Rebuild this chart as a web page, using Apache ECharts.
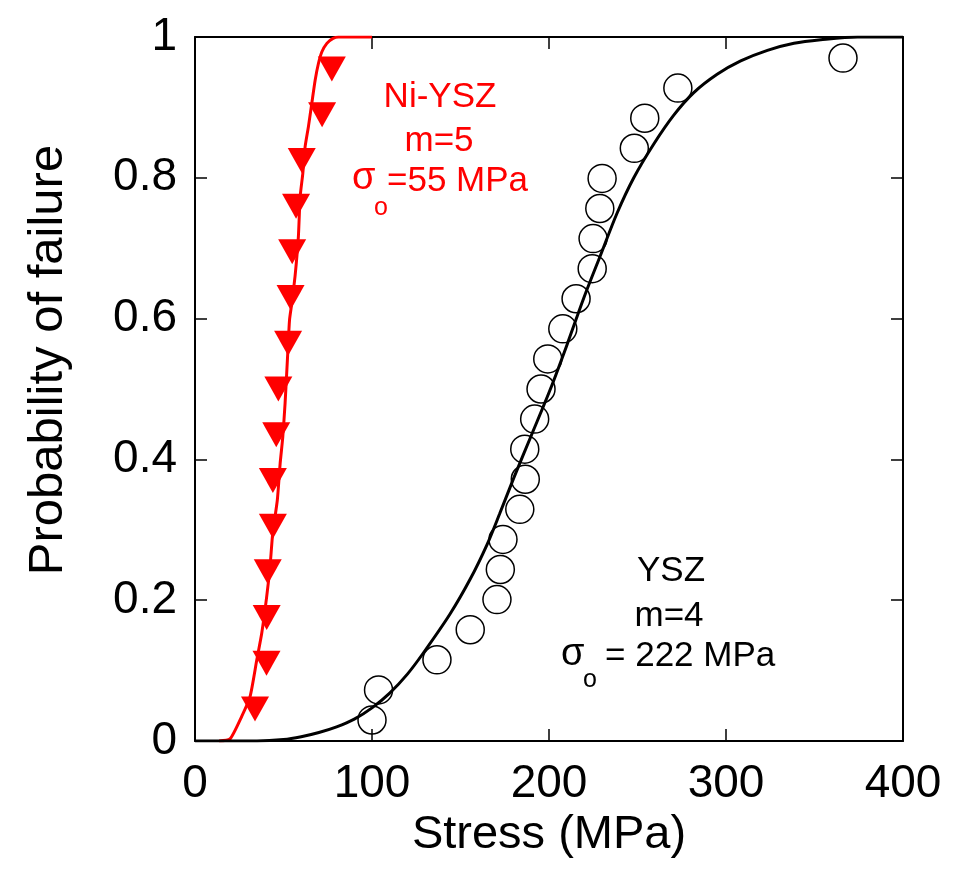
<!DOCTYPE html>
<html><head><meta charset="utf-8">
<script src="https://cdn.jsdelivr.net/npm/echarts@6/dist/echarts.min.js"></script>
<style>html,body{margin:0;padding:0;background:#fff}#c{width:958px;height:872px}</style>
</head><body><div id="c"></div>
<script>
const FONT = "'Liberation Sans', Arial, Helvetica, sans-serif";
// Ni-YSZ measured points
const niStress = [33.9, 40.4, 40.5, 41.1, 44.0, 44.0, 45.9, 47.1, 52.6, 54.0, 54.9, 57.1, 60.3, 71.8, 77.3];
const niProb = [0.0455, 0.1104, 0.1753, 0.2403, 0.3052, 0.3701, 0.4351, 0.5, 0.5649, 0.6299, 0.6948, 0.7597, 0.8247, 0.8896, 0.9545];
// YSZ measured points
const yszStress = [100.0, 103.7, 136.7, 155.5, 170.6, 172.5, 174.0, 183.5, 186.6, 186.3, 191.9, 195.5, 199.3, 207.8, 215.3, 224.4, 224.9, 228.7, 230.0, 248.2, 254.1, 272.8, 366.1];
const yszProb = [0.0299, 0.0726, 0.1154, 0.1581, 0.2009, 0.2436, 0.2863, 0.3291, 0.3718, 0.4145, 0.4573, 0.5, 0.5427, 0.5855, 0.6282, 0.6709, 0.7137, 0.7564, 0.7991, 0.8419, 0.8846, 0.9274, 0.9701];
// fitted curves
const niFitStress = [13.6, 19.8, 26.4, 31.1, 34.9, 37.7, 40.5, 42.4, 43.9, 46.5, 48.1, 49.6, 50.9, 52.4, 53.4, 54.7, 56.6, 58.4, 59.4, 60.9, 62.2, 64.1, 66.0, 67.9, 69.7, 71.7, 74.5, 78.0, 81.0, 100.0];
const niFitProb = [0, 0.003, 0.035, 0.063, 0.115, 0.153, 0.205, 0.248, 0.295, 0.342, 0.394, 0.432, 0.48, 0.551, 0.598, 0.622, 0.662, 0.716, 0.773, 0.806, 0.844, 0.873, 0.906, 0.939, 0.962, 0.979, 0.991, 0.998, 1.0, 1.0];
const yszFitStress = [0, 35, 50, 60, 70, 80, 90, 100, 110, 120, 129, 144, 155.5, 165, 172, 180, 190, 200.8, 210.2, 219.6, 229.1, 238.5, 247.9, 259.2, 270.5, 281.8, 295, 308.3, 323.4, 338.4, 353.5, 374.3, 400];
const yszFitProb = [0, 0, 0.002, 0.006, 0.012, 0.02, 0.031, 0.047, 0.068, 0.095, 0.125, 0.18, 0.23, 0.279, 0.322, 0.373, 0.434, 0.5, 0.563, 0.629, 0.69, 0.75, 0.8, 0.848, 0.889, 0.921, 0.947, 0.966, 0.981, 0.991, 0.996, 1.0, 1.0];
const xTicks = [0, 100, 200, 300, 400];
const yTicks = [0, 0.2, 0.4, 0.6, 0.8, 1];

const zip = (a, b) => a.map((v, i) => [v, b[i]]);
const RED = '#ff0000';
const lineCommon = {show: true, onZero: false, lineStyle: {color: '#000', width: 2}};
const tickCommon = {show: true, inside: true, length: 12, lineStyle: {color: '#000', width: 1.5}};

const chart = echarts.init(document.getElementById('c'), null, {renderer: 'canvas'});
chart.setOption({
  animation: false,
  backgroundColor: '#fff',
  grid: {left: 195, right: 55, top: 37, bottom: 131, containLabel: false},
  xAxis: [{
    type: 'value', min: xTicks[0], max: xTicks[xTicks.length - 1], interval: 100, position: 'bottom',
    axisLine: lineCommon, axisTick: tickCommon, splitLine: {show: false},
    axisLabel: {color: '#000', fontSize: 46, fontFamily: FONT, margin: 20},
    name: 'Stress (MPa)', nameLocation: 'middle', nameGap: 62,
    nameTextStyle: {color: '#000', fontSize: 47, fontFamily: FONT}
  }, {
    type: 'value', min: xTicks[0], max: xTicks[xTicks.length - 1], interval: 100, position: 'top',
    axisLine: lineCommon, axisTick: tickCommon, splitLine: {show: false}, axisLabel: {show: false}
  }],
  yAxis: [{
    type: 'value', min: yTicks[0], max: yTicks[yTicks.length - 1], interval: 0.2, position: 'left',
    axisLine: lineCommon, axisTick: tickCommon, splitLine: {show: false},
    axisLabel: {color: '#000', fontSize: 46, fontFamily: FONT, margin: 18, padding: [0, 0, 16, 0]}
  }, {
    type: 'value', min: yTicks[0], max: yTicks[yTicks.length - 1], interval: 0.2, position: 'right',
    axisLine: lineCommon, axisTick: tickCommon, splitLine: {show: false}, axisLabel: {show: false}
  }],
  series: [
    {type: 'line', name: 'Ni-YSZ fit', data: zip(niFitStress, niFitProb), showSymbol: false, smooth: 0.2,
     lineStyle: {color: RED, width: 3}, z: 2},
    {type: 'line', name: 'YSZ fit', data: zip(yszFitStress, yszFitProb), showSymbol: false, smooth: 0.3,
     lineStyle: {color: '#000', width: 3}, z: 2},
    {type: 'scatter', name: 'Ni-YSZ', data: zip(niStress, niProb), symbol: 'triangle', symbolRotate: 180,
     symbolSize: [28, 25], itemStyle: {color: RED, opacity: 1}, z: 3},
    {type: 'scatter', name: 'YSZ', data: zip(yszStress, yszProb), symbol: 'circle', symbolSize: 28,
     itemStyle: {color: 'rgba(0,0,0,0)', borderColor: '#000', borderWidth: 1.5, opacity: 1}, z: 3}
  ],
  graphic: [
    {type: 'text', x: 48, y: 360, rotation: Math.PI / 2,
     style: {text: 'Probability of failure', x: 0, y: 0, align: 'center', verticalAlign: 'middle', fill: '#000', font: '49px ' + FONT}},
    {type: 'text', style: {text: 'Ni-YSZ', x: 440, y: 97, align: 'center', verticalAlign: 'middle', fill: RED, font: '35px ' + FONT}},
    {type: 'text', style: {text: 'm=5', x: 439, y: 141, align: 'center', verticalAlign: 'middle', fill: RED, font: '35px ' + FONT}},
    {type: 'text', style: {text: 'σ', x: 352, y: 179, align: 'left', verticalAlign: 'middle', fill: RED, font: '38px ' + FONT}},
    {type: 'text', style: {text: 'o', x: 374, y: 208, align: 'left', verticalAlign: 'middle', fill: RED, font: '25px ' + FONT}},
    {type: 'text', style: {text: '=55 MPa', x: 387, y: 181, align: 'left', verticalAlign: 'middle', fill: RED, font: '35px ' + FONT}},
    {type: 'text', style: {text: 'YSZ', x: 671, y: 571, align: 'center', verticalAlign: 'middle', fill: '#000', font: '35px ' + FONT}},
    {type: 'text', style: {text: 'm=4', x: 669, y: 616, align: 'center', verticalAlign: 'middle', fill: '#000', font: '35px ' + FONT}},
    {type: 'text', style: {text: 'σ', x: 561, y: 655, align: 'left', verticalAlign: 'middle', fill: '#000', font: '38px ' + FONT}},
    {type: 'text', style: {text: 'o', x: 583, y: 680, align: 'left', verticalAlign: 'middle', fill: '#000', font: '25px ' + FONT}},
    {type: 'text', style: {text: '= 222 MPa', x: 605, y: 656, align: 'left', verticalAlign: 'middle', fill: '#000', font: '35px ' + FONT}}
  ]
});
</script></body></html>
